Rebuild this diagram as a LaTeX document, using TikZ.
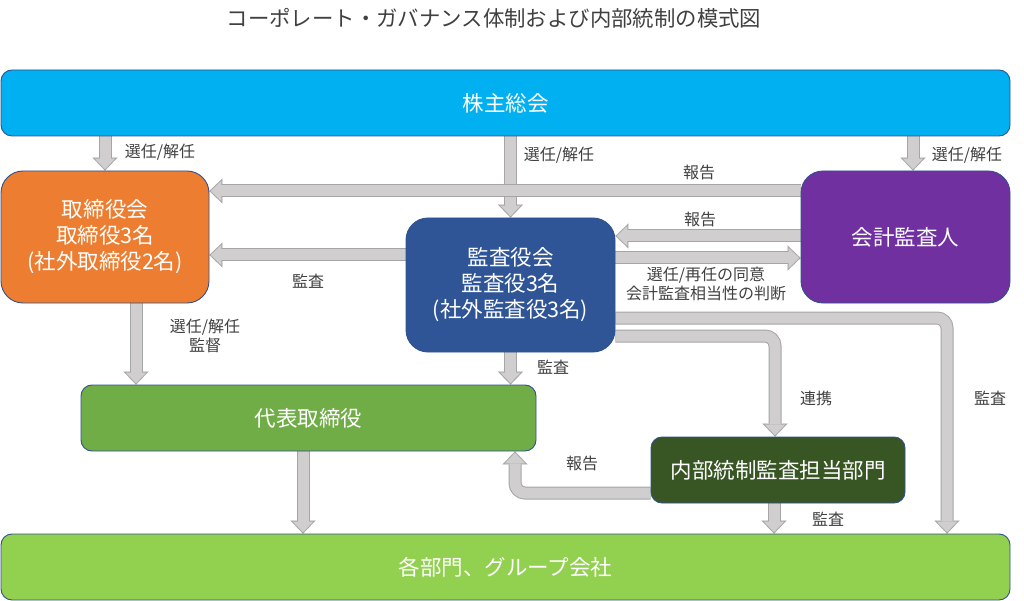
\documentclass[tikz,border=0pt]{standalone}
\usepackage{fontspec}
\setmainfont{Noto Sans CJK JP}
\usetikzlibrary{arrows.meta}
\pgfdeclarelayer{bg}
\pgfsetlayers{bg,main}
\definecolor{cKabu}{HTML}{00B0F0}
\definecolor{cTor}{HTML}{ED7D31}
\definecolor{cKan}{HTML}{2F5597}
\definecolor{cKai}{HTML}{7030A0}
\definecolor{cDai}{HTML}{70AD47}
\definecolor{cNai}{HTML}{375623}
\definecolor{cKaku}{HTML}{92D050}
\definecolor{cOut}{HTML}{2F528F}
\definecolor{aFill}{HTML}{D0CECE}
\definecolor{aEdge}{HTML}{A5A5A5}
\definecolor{cText}{HTML}{404040}
\tikzset{
  box/.style={draw=cOut, line width=0.9pt, text=white, align=center, inner sep=0pt,
    font=\fontsize{21.5pt}{26pt}\selectfont},
  lbl/.style={text=cText, align=center, inner sep=0pt, font=\fontsize{16pt}{19.5pt}\selectfont},
  ttl/.style={text=cText, inner sep=0pt, font=\fontsize{21.4pt}{24pt}\selectfont},
  fatout/.style={draw=aEdge, line width=13pt, -{Triangle[length=13pt,width=25pt,line width=0.01pt]}},
  fatin/.style={draw=aFill, line width=11pt, shorten >=1.44pt, -{Triangle[length=10.56pt,width=20.3pt,line width=0.01pt]}}
}
\newcommand\fat[2][]{\draw[fatout,#1] #2; \draw[fatin,#1] #2;}
\begin{document}
\begin{tikzpicture}[x=1pt,y=-1pt]
\useasboundingbox (0,0) rectangle (1024,601);
\node[ttl] (title) at (494,18) {コーポレート・ガバナンス体制および内部統制の模式図};

\node[box, fill=cKabu, minimum width=1009pt, minimum height=66pt, rounded corners=11pt] (kabu) at (505.5,103) {株主総会};
\node[box, fill=cTor, minimum width=208pt, minimum height=132pt, rounded corners=22pt] (tor) at (105,237) {取締役会\\取締役3名\\(社外取締役2名)};
\node[box, fill=cKan, minimum width=209pt, minimum height=134pt, rounded corners=22pt] (kan) at (510.5,285) {監査役会\\監査役3名\\(社外監査役3名)};
\node[box, fill=cKai, minimum width=209pt, minimum height=132pt, rounded corners=22pt] (kai) at (905.5,237) {会計監査人};
\node[box, fill=cDai, minimum width=455pt, minimum height=66pt, rounded corners=11pt] (dai) at (308.5,418) {代表取締役};
\node[box, fill=cNai, minimum width=254pt, minimum height=66pt, rounded corners=11pt] (nai) at (778,470) {内部統制監査担当部門};
\node[box, fill=cKaku, minimum width=1009pt, minimum height=66pt, rounded corners=11pt] (kaku) at (505.5,567) {各部門、グループ会社};

\begin{pgfonlayer}{bg}
\coordinate (k1) at (tor.north);
\fat{(k1 |- kabu.south) -- (k1)}
\fat{(kan.north |- kabu.south) -- (kan.north)}
\coordinate (k3) at ([xshift=7.5pt]kai.north);
\fat{(k3 |- kabu.south) -- (k3)}
\coordinate (k4) at ([yshift=46pt]kai.west);
\fat{(k4) -- (k4 -| tor.east)}
\coordinate (k5) at ([yshift=1pt]kai.west);
\fat{(k5) -- (k5 -| kan.east)}
\coordinate (k6) at ([yshift=-21pt]kai.west);
\fat{(k6 -| kan.east) -- (k6)}
\coordinate (k7) at ([yshift=30pt]kan.west);
\fat{(k7) -- (k7 -| tor.east)}
\coordinate (k8) at ([xshift=31pt]tor.south);
\fat{(k8) -- (k8 |- dai.north)}
\fat{(kan.south) -- (kan.south |- dai.north)}
\coordinate (k10) at ([yshift=-51pt]kan.east);
\coordinate (m10) at ([xshift=-3pt]nai.north);
\fat[rounded corners=10pt]{(k10) -| (m10)}
\coordinate (k11) at ([yshift=-33pt]kan.east);
\coordinate (m11) at ([xshift=441.5pt]kaku.north);
\fat[rounded corners=10pt]{(k11) -| (m11)}
\coordinate (k12) at ([yshift=-23pt]nai.west);
\coordinate (m12) at ([xshift=206.5pt]dai.south);
\fat[rounded corners=10pt]{(k12) -| (m12)}
\coordinate (k13) at ([xshift=-4pt]nai.south);
\fat{(k13) -- (k13 |- kaku.north)}
\coordinate (k14) at ([xshift=-5.5pt]dai.south);
\fat{(k14) -- (k14 |- kaku.north)}
\end{pgfonlayer}

\node[lbl] (l1) at (160,152) {選任/解任};
\node[lbl] (l2) at (559,155) {選任/解任};
\node[lbl] (l3) at (967,155) {選任/解任};
\node[lbl] (l4) at (699,172) {報告};
\node[lbl] (l5) at (700,219) {報告};
\node[lbl] (l6) at (706,284) {選任/再任の同意\\会計監査相当性の判断};
\node[lbl] (l7) at (308,281) {監査};
\node[lbl] (l8) at (205,336) {選任/解任\\監督};
\node[lbl] (l9) at (553,367) {監査};
\node[lbl] (l10) at (816,398) {連携};
\node[lbl] (l11) at (990,398) {監査};
\node[lbl] (l12) at (582,463) {報告};
\node[lbl] (l13) at (828,519) {監査};
\end{tikzpicture}
\end{document}
